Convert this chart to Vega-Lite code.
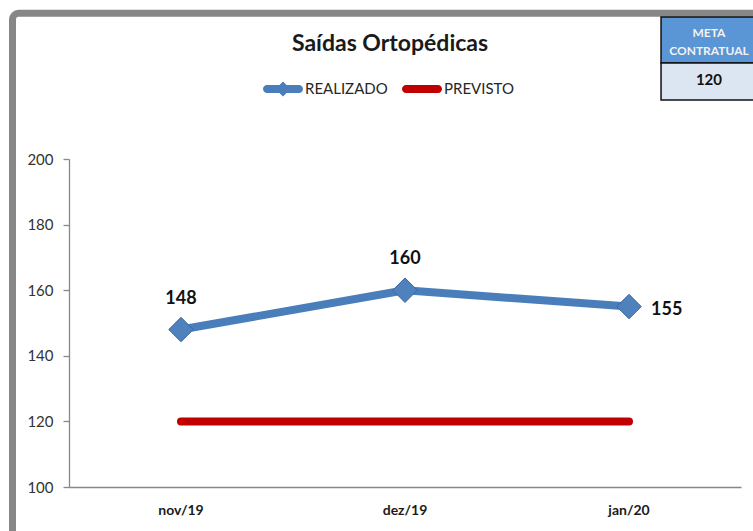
{
  "$schema": "https://vega.github.io/schema/vega-lite/v6.json",
  "width": 672,
  "height": 328,
  "autosize": {"type": "none"},
  "padding": {"left": 69, "top": 159, "right": 12, "bottom": 44},
  "background": "white",
  "title": {"text": "Saídas Ortopédicas", "font": "Lato", "fontSize": 23, "fontWeight": "bold", "color": "#1a1a1a", "anchor": "middle", "dx": -15, "offset": -46},
  "datasets": {
    "serie": [
      {"mes": "nov/19", "serie": "REALIZADO", "valor": 148},
      {"mes": "dez/19", "serie": "REALIZADO", "valor": 160},
      {"mes": "jan/20", "serie": "REALIZADO", "valor": 155},
      {"mes": "nov/19", "serie": "PREVISTO", "valor": 120},
      {"mes": "dez/19", "serie": "PREVISTO", "valor": 120},
      {"mes": "jan/20", "serie": "PREVISTO", "valor": 120}
    ],
    "meta": [{"rotulo": "META CONTRATUAL", "meta": 120}]
  },
  "data": {"name": "serie"},
  "layer": [
    {
      "data": {"name": "meta"},
      "mark": {"type": "rect", "fill": null, "stroke": "#878787", "strokeWidth": 7, "cornerRadius": 6, "clip": false},
      "encoding": {
        "x": {"datum": "nov/19", "type": "nominal", "bandPosition": -0.2522},
        "x2": {"datum": "jan/20", "bandPosition": 1.5},
        "y": {"datum": 244.4, "type": "quantitative"},
        "y2": {"datum": 50}
      }
    },
    {
      "data": {"name": "meta"},
      "mark": {"type": "rect", "fill": "#5A95D5", "stroke": "#111111", "strokeWidth": 1.5},
      "encoding": {
        "x": {"datum": "jan/20", "type": "nominal", "bandPosition": 0.643},
        "x2": {"datum": "jan/20", "bandPosition": 1.5},
        "y": {"datum": 243.3, "type": "quantitative"},
        "y2": {"datum": 229.3}
      }
    },
    {
      "data": {"name": "meta"},
      "mark": {"type": "rect", "fill": "#DCE6F2", "stroke": "#111111", "strokeWidth": 1.5},
      "encoding": {
        "x": {"datum": "jan/20", "type": "nominal", "bandPosition": 0.643},
        "x2": {"datum": "jan/20", "bandPosition": 1.5},
        "y": {"datum": 229.3, "type": "quantitative"},
        "y2": {"datum": 218.0}
      }
    },
    {
      "data": {"name": "meta"},
      "mark": {"type": "text", "font": "Lato", "fontSize": 12, "fontWeight": "bold", "color": "#F2F2F2", "lineBreak": " ", "lineHeight": 18, "baseline": "middle", "align": "center"},
      "encoding": {
        "x": {"datum": "jan/20", "type": "nominal", "bandPosition": 0.857},
        "y": {"datum": 238.5, "type": "quantitative"},
        "text": {"field": "rotulo"}
      }
    },
    {
      "data": {"name": "meta"},
      "mark": {"type": "text", "font": "Lato", "fontSize": 15, "fontWeight": "bold", "color": "#111111", "baseline": "middle", "align": "center"},
      "encoding": {
        "x": {"datum": "jan/20", "type": "nominal", "bandPosition": 0.857},
        "y": {"datum": 224.1, "type": "quantitative"},
        "text": {"field": "meta"}
      }
    },
    {
      "mark": {"type": "line", "strokeWidth": 8, "strokeCap": "round", "strokeJoin": "round"},
      "encoding": {
        "x": {"field": "mes", "type": "nominal", "sort": null,
              "scale": {"type": "band", "paddingInner": 0, "paddingOuter": 0, "domain": ["nov/19", "dez/19", "jan/20"]},
              "axis": {"title": null, "labelAngle": 0, "labelAlign": "center", "labelBaseline": "top", "ticks": false, "labelPadding": 16, "labelFont": "Lato", "labelFontSize": 14, "labelFontWeight": "bold", "labelColor": "#1a1a1a", "domainColor": "#888888", "domainWidth": 1.3}},
        "y": {"field": "valor", "type": "quantitative",
              "scale": {"domain": [100, 200], "nice": false, "zero": false},
              "axis": {"title": null, "values": [100, 120, 140, 160, 180, 200], "grid": false, "tickSize": 6, "labelPadding": 10, "labelFont": "Lato", "labelFontSize": 15, "labelColor": "#333333", "domainColor": "#888888", "tickColor": "#888888", "domainWidth": 1.3, "tickWidth": 1.3}},
        "color": {"field": "serie", "type": "nominal",
                  "scale": {"domain": ["REALIZADO", "PREVISTO"], "range": ["#4A7EBB", "#C00000"]},
                  "legend": {"title": null, "orient": "none", "legendX": 194, "legendY": -90, "direction": "horizontal", "padding": 0,
                             "symbolSize": 1600, "labelFont": "Lato", "labelFontSize": 15, "labelColor": "#262626", "labelOffset": 2, "columnPadding": 14,
                             "encode": {"symbols": {"update": {
                               "shape": {"signal": "datum.value === 'REALIZADO' ? 'M-0.8,-0.2L0.8,-0.2A0.2,0.2,0,0,1,0.8,0.2L-0.8,0.2A0.2,0.2,0,0,1,-0.8,-0.2ZM-0.38,0L0,-0.38L0.38,0L0,0.38Z' : 'M-0.8,-0.2L0.8,-0.2A0.2,0.2,0,0,1,0.8,0.2L-0.8,0.2A0.2,0.2,0,0,1,-0.8,-0.2Z'"},
                               "fill": {"scale": "color", "field": "value"},
                               "stroke": {"value": "transparent"},
                               "strokeWidth": {"value": 0},
                               "opacity": {"value": 1}
                             }}}}}
      }
    },
    {
      "transform": [{"filter": "datum.serie === 'REALIZADO'"}],
      "mark": {"type": "point", "shape": "diamond", "filled": true, "size": 600, "color": "#4F81BD", "stroke": "#3A679F", "strokeWidth": 1, "opacity": 1},
      "encoding": {
        "x": {"field": "mes", "type": "nominal", "sort": null},
        "y": {"field": "valor", "type": "quantitative"}
      }
    },
    {
      "transform": [{"filter": "datum.serie === 'REALIZADO' && datum.mes !== 'jan/20'"}],
      "mark": {"type": "text", "font": "Lato", "fontSize": 18, "fontWeight": "bold", "color": "#111111", "baseline": "alphabetic", "align": "center", "dy": -26},
      "encoding": {
        "x": {"field": "mes", "type": "nominal", "sort": null},
        "y": {"field": "valor", "type": "quantitative"},
        "text": {"field": "valor", "type": "quantitative"}
      }
    },
    {
      "transform": [{"filter": "datum.serie === 'REALIZADO' && datum.mes === 'jan/20'"}],
      "mark": {"type": "text", "font": "Lato", "fontSize": 18, "fontWeight": "bold", "color": "#111111", "baseline": "middle", "align": "left", "dx": 22, "dy": 3},
      "encoding": {
        "x": {"field": "mes", "type": "nominal", "sort": null},
        "y": {"field": "valor", "type": "quantitative"},
        "text": {"field": "valor", "type": "quantitative"}
      }
    }
  ],
  "config": {"view": {"stroke": null}, "font": "Lato"}
}
